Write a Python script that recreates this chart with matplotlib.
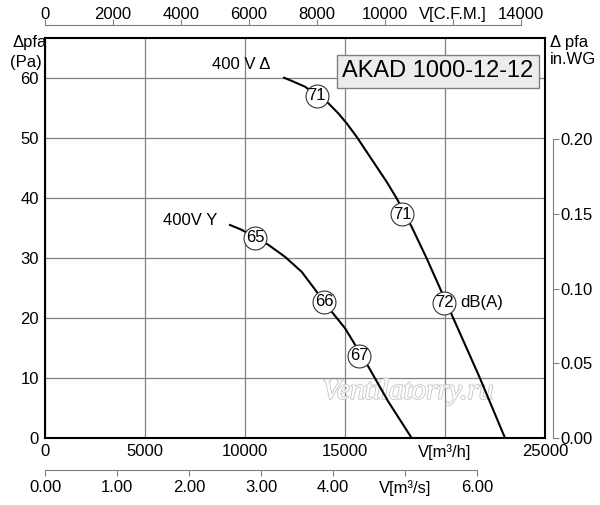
import matplotlib.pyplot as plt
import matplotlib.patheffects as pe

plt.rcParams['font.family'] = ['Liberation Sans', 'DejaVu Sans']

# curve 400 V delta (m3/h, Pa)
delta_q = [11950, 12417, 13000, 14167, 14667, 15083, 15583, 16083, 16583, 17083, 17583,
           18333, 19083, 20417, 21750, 23000]
delta_p = [60.05, 59.4, 58.55, 55.8, 54.1, 52.45, 50.2, 47.7, 45.2, 42.7, 39.95,
           35.2, 29.95, 19.95, 9.95, 0.0]

# curve 400 V star
star_q = [9250, 9833, 10500, 11167, 12000, 12833, 13467, 14333, 15000, 16167, 17167, 18333]
star_p = [35.5, 34.7, 33.4, 32.2, 30.2, 27.7, 24.9, 21.05, 18.3, 11.9, 6.05, 0.0]

# noise level circles dB(A)
delta_db_q = [13583, 17850, 19950]
delta_db_p = [57.0, 37.3, 22.55]
delta_db = ['71', '71', '72']
star_db_q = [10500, 13967, 15717]
star_db_p = [33.4, 22.7, 13.7]
star_db = ['65', '66', '67']

x_ticks = [0, 5000, 10000, 15000, 20000, 25000]
x_labels = ['0', '5000', '10000', '15000', 'V[m³/h]', '25000']
y_ticks = [0, 10, 20, 30, 40, 50, 60]
cfm_ticks = [0, 2000, 4000, 6000, 8000, 10000, 12000, 14000]
cfm_labels = ['0', '2000', '4000', '6000', '8000', '10000', 'V[C.F.M.]', '14000']
m3s_ticks = [0, 1, 2, 3, 4, 5, 6]
m3s_labels = ['0.00', '1.00', '2.00', '3.00', '4.00', 'V[m³/s]', '6.00']
inwg_ticks = [0.0, 0.05, 0.10, 0.15, 0.20]

fs = 12
grey = '#808080'

fig = plt.figure(figsize=(6, 5.05), dpi=100)
ax = fig.add_axes([45 / 600, 1 - 438 / 505, 500 / 600, 400 / 505])
ax.set_xlim(0, 25000)
ax.set_ylim(0, 400 / 6)

ax.set_xticks(x_ticks)
ax.set_xticklabels(x_labels)
ax.set_yticks(y_ticks)
ax.tick_params(length=0, labelsize=fs, pad=4.5)
ax.grid(True, color=grey, linewidth=0.9)
ax.set_axisbelow(True)
for s in ax.spines.values():
    s.set_linewidth(1.5)
    s.set_color('black')

# watermark
ax.text(18150, 7.7, 'Ventilatorry.ru', fontsize=21, family='Liberation Serif',
        style='italic', color='white', ha='center', va='center', zorder=2,
        path_effects=[pe.withStroke(linewidth=1.3, foreground='#c8c8c8')])

ax.plot(delta_q, delta_p, color='black', linewidth=1.5, zorder=3)
ax.plot(star_q, star_p, color='black', linewidth=1.5, zorder=3)

for q, p, t in zip(delta_db_q + star_db_q, delta_db_p + star_db_p, delta_db + star_db):
    ax.plot(q, p, 'o', markersize=16.5, markerfacecolor='white',
            markeredgecolor='#333333', markeredgewidth=0.8, zorder=4)
    ax.text(q, p, t, fontsize=fs, ha='center', va='center', zorder=5)

ax.text(20750, 22.55, 'dB(A)', fontsize=fs, ha='left', va='center')
ax.text(9833, 62.2, '400 V Δ', fontsize=fs, ha='center', va='center')
ax.text(7250, 36.2, '400V Y', fontsize=fs, ha='center', va='center')

ax.text(19650, 61.1, 'AKAD 1000-12-12', fontsize=17, ha='center', va='center', zorder=6,
        bbox=dict(boxstyle='square,pad=0.22', facecolor='#ececec', edgecolor=grey, linewidth=1))

# axis titles
ax.text(0.004, 0.9875, 'Δpfa', transform=ax.transAxes, fontsize=fs, ha='right', va='center')
ax.text(-0.006, 0.94, '(Pa)', transform=ax.transAxes, fontsize=fs, ha='right', va='center')
ax.text(1.01, 0.9875, 'Δ pfa', transform=ax.transAxes, fontsize=fs, ha='left', va='center')
ax.text(1.01, 0.945, 'in.WG', transform=ax.transAxes, fontsize=fs, ha='left', va='center')

# secondary scales
top = ax.secondary_xaxis(1 + 13 / 400, functions=(lambda q: q / 1.699, lambda c: c * 1.699))
top.set_xticks(cfm_ticks)
top.set_xticklabels(cfm_labels)
top.spines['top'].set_bounds(0, 14000)
top.spines['top'].set_color(grey)
top.tick_params(direction='out', length=4.3, color=grey, labelsize=fs, pad=-2)

bot = ax.secondary_xaxis(-32 / 400, functions=(lambda q: q / 3600, lambda s: s * 3600))
bot.set_xticks(m3s_ticks)
bot.set_xticklabels(m3s_labels)
bot.spines['bottom'].set_bounds(0, 6)
bot.spines['bottom'].set_color(grey)
bot.tick_params(direction='out', length=4.3, color=grey, labelsize=fs, pad=3)

right = ax.secondary_yaxis(1 + 8 / 500, functions=(lambda p: p / 249, lambda w: w * 249))
right.set_yticks(inwg_ticks)
right.set_yticklabels(['%.2f' % v for v in inwg_ticks])
right.spines['right'].set_bounds(0, 0.20)
right.spines['right'].set_color(grey)
right.tick_params(direction='out', length=4, color=grey, labelsize=fs, pad=1)

fig.savefig('out.png', dpi=100)
